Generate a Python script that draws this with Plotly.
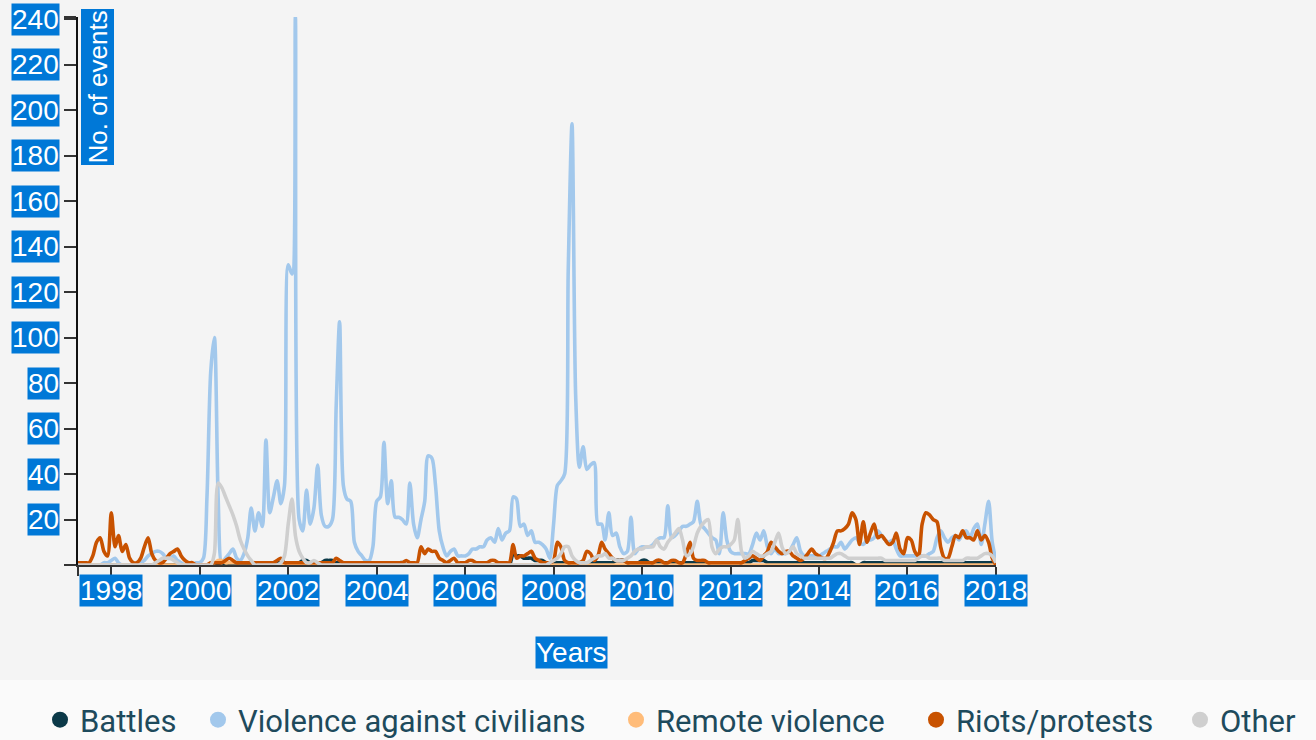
import plotly.graph_objects as go
import pandas as pd

# Monthly series, Apr 1997 .. Jan 2018 (one line per year)
battles = [
    0, 0, 0, 0, 0, 0, 0, 0, 0,                 # 1997 Apr-Dec
    0, 0, 0, 0, 0, 0, 0, 0, 0, 0, 0, 0,        # 1998
    0, 0, 0, 0, 0, 0, 0, 0, 0, 0, 0, 0,        # 1999
    0, 0, 0, 0, 0, 0, 0, 0, 0, 0, 0, 0,        # 2000
    0, 0, 0, 0, 0, 0, 0, 0, 0, 1, 1, 1,        # 2001
    1, 1, 1, 1, 2, 2, 1, 1, 1, 1, 2, 2,        # 2002
    2, 1, 1, 1, 1, 1, 1, 1, 1, 1, 1, 1,        # 2003
    1, 1, 1, 1, 1, 1, 1, 1, 0, 0, 0, 0,        # 2004
    0, 0, 0, 0, 0, 0, 0, 0, 0, 0, 0, 0,        # 2005
    0, 0, 0, 0, 0, 0, 0, 0, 0, 0, 0, 0,        # 2006
    0, 5, 4, 4, 3, 3, 3, 2, 2, 2, 1, 1,        # 2007
    1, 1, 1, 1, 1, 1, 1, 1, 1, 1, 1, 1,        # 2008
    1, 1, 1, 1, 1, 2, 2, 2, 1, 1, 1, 1,        # 2009
    2, 2, 1, 1, 1, 1, 1, 1, 1, 1, 1, 1,        # 2010
    1, 1, 1, 1, 1, 1, 1, 1, 1, 1, 1, 1,        # 2011
    1, 1, 1, 1, 1, 1, 2, 2, 2, 2, 1, 1,        # 2012
    1, 1, 1, 1, 1, 1, 1, 1, 1, 1, 1, 1,        # 2013
    1, 1, 1, 1, 1, 1, 1, 1, 1, 1, 0, 0,        # 2014
    1, 1, 1, 1, 1, 1, 1, 1, 1, 1, 1, 1,        # 2015
    1, 1, 1, 1, 1, 1, 1, 1, 1, 1, 1, 1,        # 2016
    1, 1, 1, 1, 1, 1, 1, 1, 1, 1, 1, 1,        # 2017
    0,                                         # 2018 Jan
]

violence_civilians = [
    0, 0, 0, 0, 0, 0, 0, 1, 1,
    2, 3, 1, 0, 0, 0, 0, 0, 1, 2, 4, 5,
    6, 6, 5, 3, 3, 4, 2, 1, 0, 0, 0, 1,
    1, 3, 30, 85, 100, 30, 1, 3, 5, 7, 3, 2,
    5, 12, 25, 15, 23, 17, 55, 23, 30, 37, 27, 35,
    132, 128, 241, 20, 15, 33, 18, 25, 44, 22, 17, 17,
    20, 70, 107, 35, 29, 28, 10, 6, 4, 2, 2, 8,
    28, 30, 54, 27, 37, 21, 21, 20, 18, 36, 18, 12,
    20, 28, 48, 47, 35, 15, 8, 4, 6, 7, 4, 4,
    4, 5, 7, 7, 8, 8, 11, 12, 10, 16, 11, 14,
    15, 30, 29, 17, 18, 13, 15, 10, 10, 9, 7, 3,
    18, 35, 37, 40, 130, 194, 75, 43, 52, 42, 44, 45,
    18, 18, 11, 23, 13, 14, 8, 5, 6, 21, 5, 7,
    8, 8, 8, 9, 11, 12, 12, 26, 12, 13, 15, 17,
    17, 18, 19, 28, 18, 16, 14, 12, 11, 5, 23, 11,
    6, 5, 5, 5, 5, 5, 9, 14, 11, 15, 8, 5,
    7, 5, 5, 5, 6, 9, 12, 6, 4, 4, 4, 4,
    4, 5, 6, 7, 8, 8, 10, 7, 9, 11, 12, 10,
    9, 11, 11, 12, 15, 13, 11, 10, 11, 7, 4, 4,
    4, 4, 4, 4, 4, 4, 5, 6, 12, 15, 12, 10,
    12, 13, 11, 14, 15, 12, 16, 18, 9, 18, 28, 10,
    2,
]

remote_violence = [
    0, 0, 0, 0, 0, 0, 0, 0, 0,
    0, 0, 0, 0, 0, 0, 0, 0, 0, 0, 0, 0,
    0, 0, 0, 0, 0, 0, 0, 0, 0, 0, 0, 0,
    0, 0, 0, 1, 1, 2, 2, 1, 1, 1, 1, 1,
    1, 1, 1, 1, 0, 0, 0, 0, 0, 0, 0, 0,
    0, 0, 0, 0, 0, 0, 0, 0, 0, 0, 0, 0,
    0, 0, 0, 0, 0, 0, 0, 0, 0, 0, 0, 0,
    0, 0, 0, 0, 0, 0, 0, 0, 0, 0, 0, 0,
    0, 0, 0, 0, 0, 0, 0, 0, 0, 0, 0, 0,
    0, 0, 0, 0, 0, 0, 0, 0, 0, 0, 0, 0,
    0, 0, 0, 0, 0, 0, 0, 0, 0, 0, 0, 0,
    0, 0, 0, 0, 0, 0, 0, 0, 0, 0, 0, 0,
    0, 0, 0, 0, 0, 0, 0, 0, 0, 0, 0, 0,
    0, 0, 0, 0, 0, 0, 0, 0, 0, 0, 0, 0,
    0, 0, 0, 0, 0, 0, 0, 0, 0, 0, 0, 0,
    0, 0, 0, 0, 0, 0, 0, 0, 0, 0, 0, 0,
    0, 0, 0, 0, 0, 0, 0, 0, 0, 0, 0, 0,
    0, 0, 0, 0, 0, 0, 0, 0, 0, 0, 0, 0,
    0, 0, 0, 0, 0, 0, 0, 0, 0, 0, 0, 0,
    0, 0, 0, 0, 0, 0, 0, 0, 0, 0, 0, 0,
    0, 0, 0, 0, 0, 0, 0, 0, 0, 0, 0, 0,
    0,
]

riots_protests = [
    1, 1, 1, 1, 4, 10, 12, 6, 4,
    23, 8, 13, 6, 9, 3, 1, 1, 3, 8, 12, 5,
    2, 1, 1, 3, 5, 6, 7, 4, 2, 1, 1, 0,
    0, 0, 0, 1, 1, 1, 1, 2, 3, 2, 1, 1,
    1, 1, 1, 1, 1, 1, 1, 1, 1, 2, 3, 1,
    1, 1, 1, 1, 1, 1, 1, 1, 1, 1, 1, 1,
    1, 3, 2, 1, 1, 1, 1, 1, 1, 1, 1, 1,
    1, 1, 1, 1, 1, 1, 1, 1, 2, 1, 1, 1,
    8, 5, 7, 6, 6, 3, 2, 1, 2, 3, 1, 1,
    1, 2, 2, 1, 1, 1, 1, 2, 2, 1, 1, 1,
    1, 9, 3, 4, 4, 5, 6, 3, 2, 1, 1, 1,
    2, 10, 8, 2, 1, 1, 1, 1, 2, 6, 5, 2,
    4, 10, 7, 5, 3, 2, 2, 2, 1, 1, 1, 1,
    1, 1, 1, 1, 2, 2, 1, 1, 2, 2, 1, 1,
    5, 10, 3, 2, 2, 2, 1, 1, 1, 1, 1, 1,
    1, 1, 1, 1, 2, 3, 4, 3, 2, 4, 6, 10,
    8, 6, 5, 6, 6, 4, 3, 2, 3, 5, 7, 5,
    4, 3, 3, 6, 10, 15, 15, 16, 18, 23, 20, 9,
    19, 10, 14, 18, 12, 13, 11, 9, 10, 14, 7, 5,
    12, 11, 6, 4, 18, 23, 22, 20, 19, 8, 3, 3,
    8, 13, 12, 15, 12, 12, 11, 15, 11, 13, 10, 3,
    0,
]

other = [
    0, 0, 0, 0, 0, 0, 0, 0, 0,
    0, 0, 0, 0, 0, 0, 0, 0, 0, 0, 0, 0,
    1, 2, 3, 3, 3, 2, 1, 0, 0, 0, 0, 0,
    0, 0, 0, 0, 5, 36, 34, 30, 26, 22, 17, 11,
    7, 4, 2, 0, 0, 0, 0, 0, 0, 0, 1, 4,
    18, 29, 13, 6, 3, 1, 1, 2, 1, 0, 0, 0,
    0, 0, 0, 0, 0, 0, 0, 0, 0, 0, 0, 0,
    0, 0, 0, 0, 0, 0, 0, 0, 0, 0, 0, 0,
    0, 0, 0, 0, 0, 0, 0, 0, 0, 0, 0, 0,
    0, 0, 0, 0, 0, 0, 0, 0, 0, 0, 0, 0,
    0, 0, 0, 0, 0, 0, 0, 0, 0, 0, 0, 1,
    2, 3, 5, 8, 8, 4, 2, 1, 1, 1, 2, 3,
    4, 4, 5, 3, 3, 2, 2, 2, 3, 4, 6, 7,
    7, 8, 8, 8, 11, 8, 7, 10, 12, 14, 16, 11,
    4, 5, 8, 14, 17, 19, 20, 8, 5, 7, 8, 8,
    9, 11, 20, 6, 3, 4, 6, 5, 4, 4, 5, 6,
    10, 14, 8, 5, 6, 8, 5, 4, 3, 3, 3, 3,
    3, 3, 3, 3, 4, 5, 5, 4, 3, 3, 3, 3,
    3, 3, 3, 3, 3, 3, 2, 2, 2, 2, 2, 2,
    2, 2, 2, 3, 4, 4, 3, 3, 3, 3, 2, 2,
    2, 2, 2, 2, 3, 3, 3, 3, 4, 5, 5, 4,
    1,
]

series_names = ["Battles", "Violence against civilians", "Remote violence",
                "Riots/protests", "Other"]
series_values = [battles, violence_civilians, remote_violence, riots_protests, other]
series_colors = ["#0b3948", "#a2c8ec", "#ffbc79", "#c85200", "#cfcfcf"]

year_ticks = ["1998", "2000", "2002", "2004", "2006", "2008", "2010",
              "2012", "2014", "2016", "2018"]
y_ticks = [20, 40, 60, 80, 100, 120, 140, 160, 180, 200, 220, 240]

months = pd.date_range("1997-04-01", "2018-01-01", freq="MS")

LABEL_BG = "#0078d7"
LABEL_FONT = dict(family="Liberation Sans, Arial, sans-serif", size=28, color="white")
LEGEND_FONT = dict(family="Roboto, sans-serif", size=31, color="#1e4a5c")
# legend entries: left edge of each legend box (px from left of page)
legend_left_px = [40, 198, 616, 916, 1180]

fig = go.Figure()
for name, vals, col in zip(series_names, series_values, series_colors):
    fig.add_trace(go.Scatter(
        x=months[:len(vals)], y=vals, mode="lines", name=name,
        line=dict(color=col, width=3.6, shape="spline", smoothing=0.8),
        showlegend=False, hoverinfo="skip"))

legend_keys = ["legend", "legend2", "legend3", "legend4", "legend5"]
legend_layouts = {}
for name, col, key, lx in zip(series_names, series_colors, legend_keys, legend_left_px):
    fig.add_trace(go.Scatter(
        x=[None], y=[None], mode="markers", name=name, legend=key,
        marker=dict(color=col, size=16, symbol="circle"), showlegend=True))
    legend_layouts[key] = dict(
        orientation="h", xref="container", yref="container",
        x=lx / 1316, xanchor="left", y=(740 - 720) / 740, yanchor="middle",
        font=LEGEND_FONT, bgcolor="rgba(0,0,0,0)", itemwidth=30, borderwidth=0)

annotations = []
for yr in year_ticks:
    annotations.append(dict(
        x=f"{yr}-01-01", xref="x", y=0, yref="paper", yanchor="top", xanchor="center",
        yshift=-9, text=yr, showarrow=False, font=LABEL_FONT, bgcolor=LABEL_BG,
        borderpad=0))
for v in y_ticks:
    annotations.append(dict(
        x=0, xref="paper", xanchor="right", xshift=-18, y=v, yref="y",
        yanchor="middle", text=str(v), showarrow=False, font=LABEL_FONT,
        bgcolor=LABEL_BG, borderpad=0))
annotations.append(dict(
    x=0, xref="paper", xanchor="left", xshift=2, y=1, yref="paper", yanchor="top",
    yshift=8, text="No. of events", textangle=-90, showarrow=False,
    font=dict(LABEL_FONT, size=26), bgcolor=LABEL_BG, borderpad=1))
annotations.append(dict(
    x=0.538, xref="paper", xanchor="center", y=-0.159, yref="paper", yanchor="middle",
    text="Years", showarrow=False, font=LABEL_FONT, bgcolor=LABEL_BG, borderpad=0))

fig.update_layout(
    width=1316, height=740,
    margin=dict(l=78, r=320, t=17, b=175, autoexpand=False),
    paper_bgcolor="#fafafa",
    plot_bgcolor="#f4f4f4",
    showlegend=True,
    shapes=[dict(type="rect", xref="paper", yref="paper", x0=-78 / 918, x1=1238 / 918,
                 y0=-115 / 548, y1=1 + 17 / 548, fillcolor="#f4f4f4",
                 line=dict(width=0), layer="below")],
    annotations=annotations,
    xaxis=dict(type="date", range=["1997-04-01", "2018-01-01"],
               tickvals=["1997-04-01"] + [f"{y}-01-01" for y in year_ticks],
               showticklabels=False, ticks="outside", ticklen=9, tickwidth=2,
               tickcolor="#333", showline=True, linecolor="#333", linewidth=2,
               showgrid=False, zeroline=False, layer="below traces", fixedrange=True),
    yaxis=dict(range=[0, 241], tickvals=[0] + y_ticks + [241], showticklabels=False,
               ticks="outside", ticklen=12, tickwidth=2, tickcolor="#333",
               showline=True, linecolor="#111", linewidth=2, showgrid=False,
               zeroline=False, layer="below traces", fixedrange=True),
    **legend_layouts,
)

fig.write_html("out.html", config={"displayModeBar": False},
               post_script="document.body.style.margin='0px';")
